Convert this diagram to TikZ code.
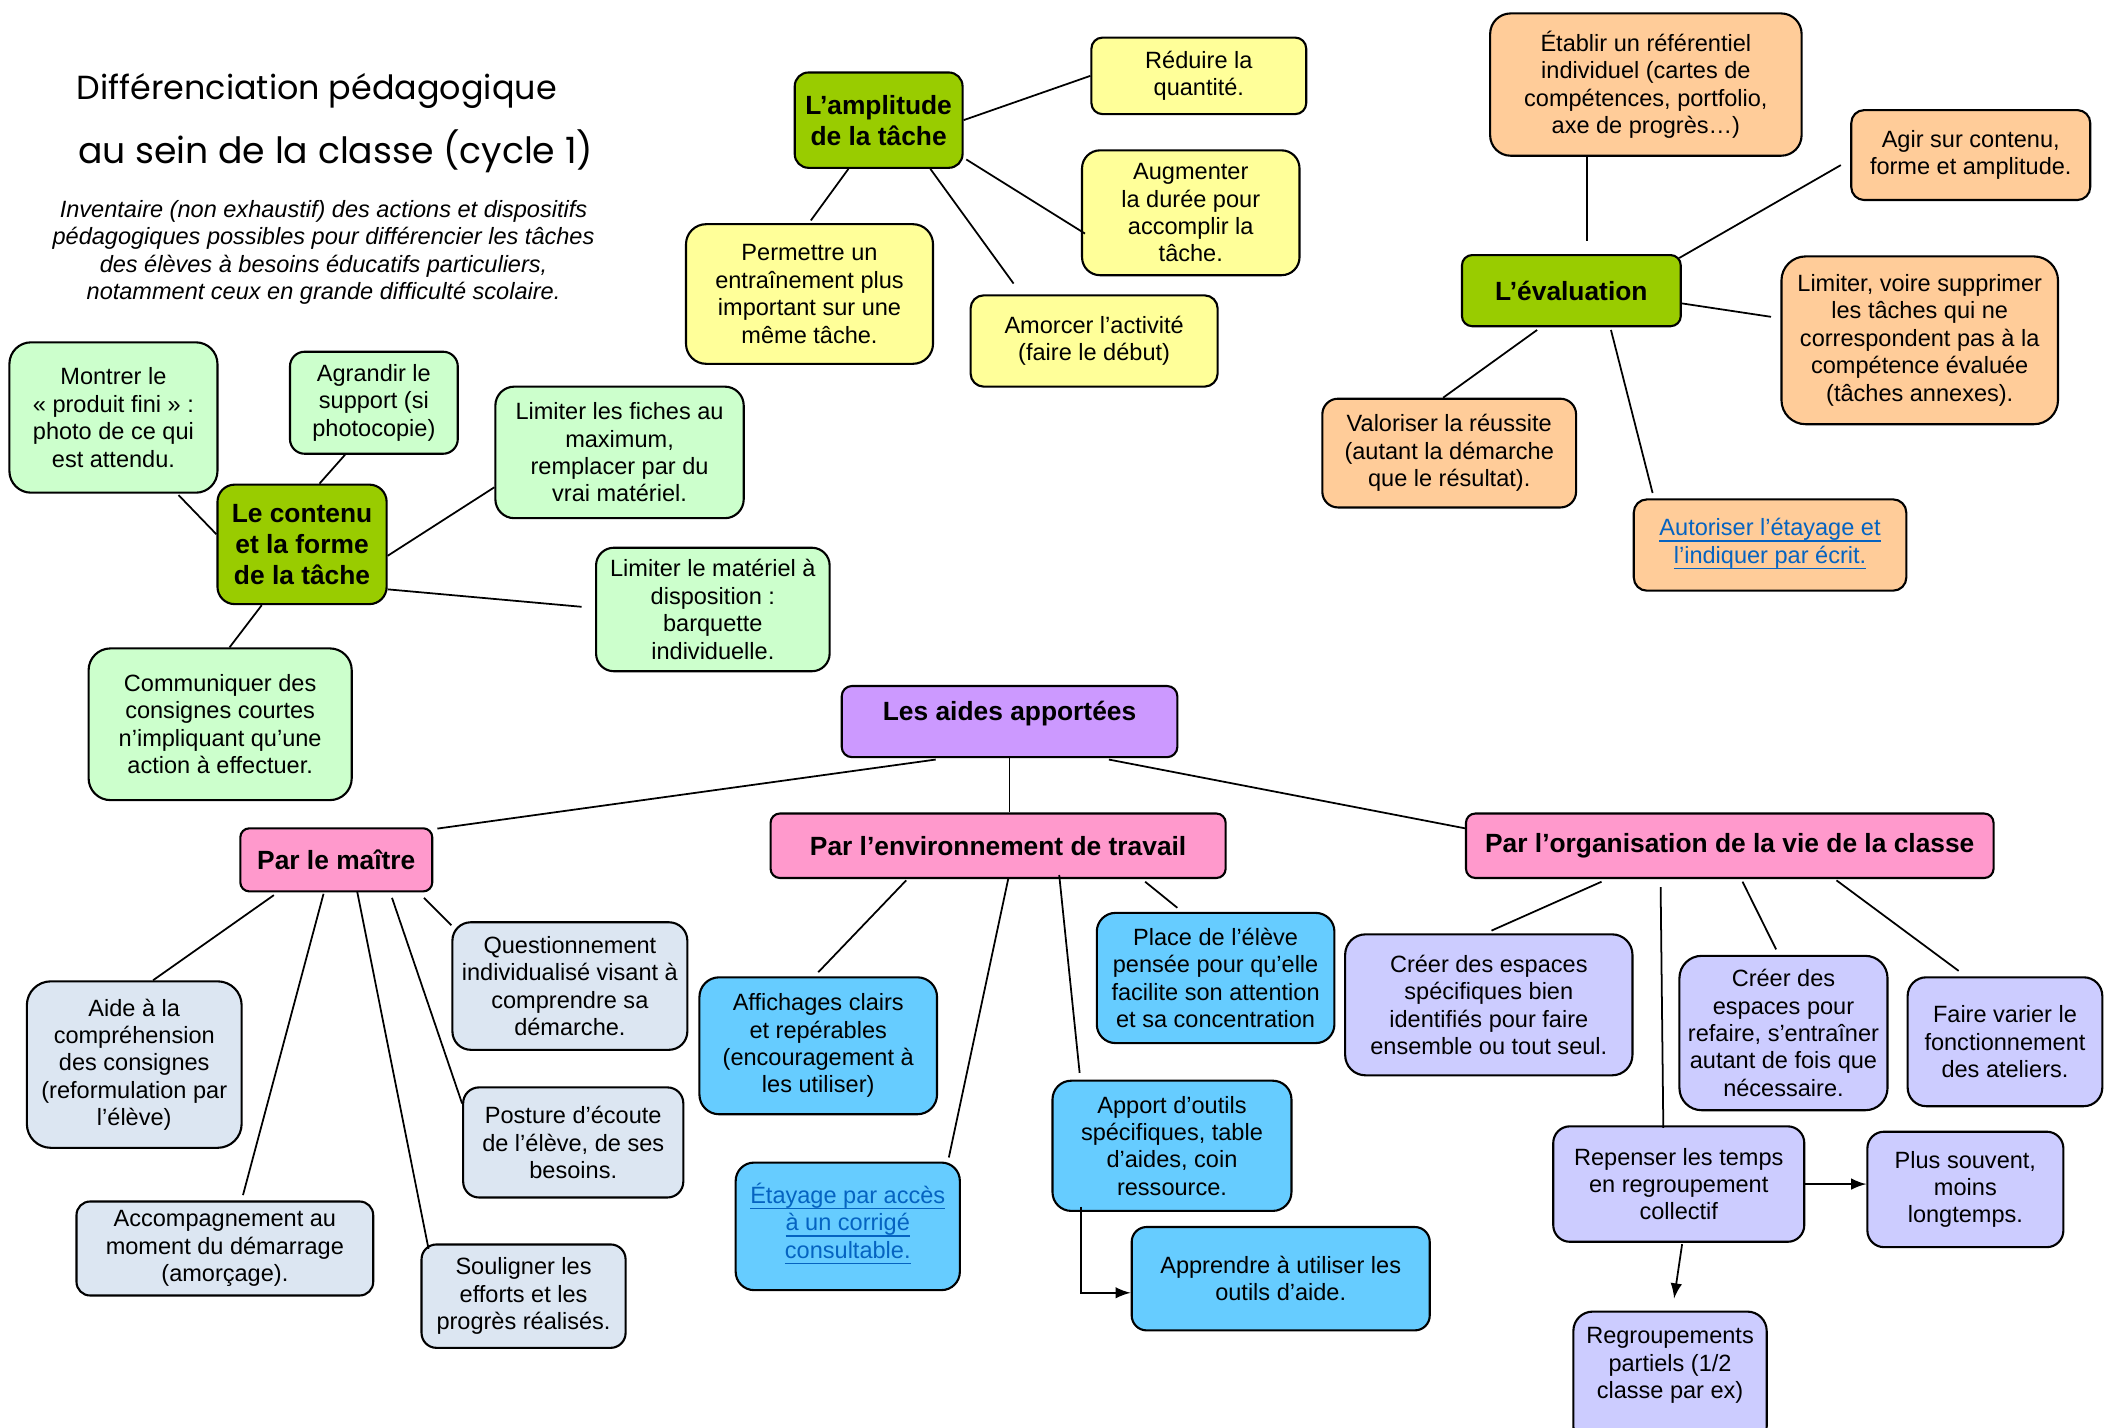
\documentclass[tikz,border=0pt]{standalone}
\usepackage{fontspec}
\setmainfont{Liberation Sans}
\newfontfamily\manuscritfont{Poppins}
\definecolor{vertfonce}{HTML}{99CC00}
\definecolor{jaune}{HTML}{FFFF99}
\definecolor{saumon}{HTML}{FFCC99}
\definecolor{vertclair}{HTML}{CCFFCC}
\definecolor{mauve}{HTML}{CC99FF}
\definecolor{rose}{HTML}{FF99CC}
\definecolor{grisbleu}{HTML}{DCE6F2}
\definecolor{bleuciel}{HTML}{66CCFF}
\definecolor{lavande}{HTML}{CCCCFF}
\definecolor{bleulien}{HTML}{0563C1}
\newcommand{\lien}[1]{\textcolor{bleulien}{\underline{\smash{#1}}}\vphantom{Ay}}
\tikzset{
  boite/.style={draw, line width=0.6pt, align=center, inner sep=1pt,
    font=\fontsize{6.7}{7.8}\selectfont},
  entete/.style={boite, font=\fontsize{7.5}{8.8}\selectfont\bfseries},
  taille/.style 2 args={minimum width=#1*0.013425cm, minimum height=#2*0.013425cm,
    rounded corners=#2*0.055pt},
  manuscrit/.style={font=\fontsize{9.5}{11}\manuscritfont},
  soustitre/.style={align=center, font=\fontsize{6.7}{7.8}\selectfont\itshape}
}
\begin{document}
\begin{tikzpicture}[x=0.013425cm,y=-0.013425cm,>=latex,line width=0.5pt]
\useasboundingbox (0,0) rectangle (1568,1063);

\node[manuscrit] (titre1) at (236,68) {Différenciation pédagogique};
\node[manuscrit, font=\fontsize{10.3}{12}\manuscritfont] (titre2) at (250,113) {au sein de la classe (cycle 1)};
\node[soustitre] (intro) at (241,188) {Inventaire (non exhaustif) des actions et dispositifs\\pédagogiques possibles pour différencier les tâches\\des élèves à besoins éducatifs particuliers,\\notamment ceux en grande difficulté scolaire.};

\node[entete, fill=vertfonce, taille={125}{71}] (amp) at (654.5,89.5) {L’amplitude\\de la tâche};
\node[boite, fill=jaune, taille={160}{57}] (reduire) at (893,56.5) {Réduire la\\quantité.};
\node[boite, fill=jaune, taille={162}{93}] (augmenter) at (887,158.5) {Augmenter\\la durée pour\\accomplir la\\tâche.};
\node[boite, fill=jaune, taille={184}{104}] (permettre) at (603,219) {Permettre un\\entraînement plus\\important sur une\\même tâche.};
\node[boite, fill=jaune, taille={184}{68}] (amorcer) at (815,254) {Amorcer l’activité\\(faire le début)};
\draw (amp.east)--(reduire.west);
\draw ([shift={(2,-7)}]amp.south east)--([shift={(3,15.5)}]augmenter.west);
\draw ([shift={(-22.5,0)}]amp.south)--([shift={(1,-2)}]permettre.north);
\draw ([shift={(38.5,0)}]amp.south)--([shift={(-60,-8)}]amorcer.north);

\node[entete, fill=vertfonce, taille={163}{53}] (eval) at (1170.5,216.5) {L’évaluation};
\node[boite, fill=saumon, taille={232}{106}] (etablir) at (1226,63) {Établir un référentiel\\individuel (cartes de\\compétences, portfolio,\\axe de progrès…)};
\node[boite, fill=saumon, taille={178}{67}] (agir) at (1468,115.5) {Agir sur contenu,\\forme et amplitude.};
\node[boite, fill=saumon, taille={206}{125}] (supprimer) at (1430,253.5) {Limiter, voire supprimer\\les tâches qui ne\\correspondent pas à la\\compétence évaluée\\(tâches annexes).};
\node[boite, fill=saumon, taille={189}{81}] (valoriser) at (1079.5,337.5) {Valoriser la réussite\\(autant la démarche\\que le résultat).};
\node[boite, fill=saumon, taille={203}{68}] (autoriser) at (1318.5,406) {\lien{Autoriser l’étayage et}\\\lien{l’indiquer par écrit.}};
\draw ([shift={(-44,0)}]etablir.south)--([shift={(11.5,-10)}]eval.north);
\draw ([shift={(-7,7.5)}]agir.west)--([shift={(-2,3)}]eval.north east);
\draw ([shift={(0,9.5)}]eval.east)--([shift={(-7,-17.5)}]supprimer.west);
\draw ([shift={(-25.5,2)}]eval.south)--([shift={(-4.5,0)}]valoriser.north);
\draw ([shift={(29.5,2)}]eval.south)--([shift={(-87.5,-4)}]autoriser.north);

\node[entete, fill=vertfonce, taille={126}{89}] (contenu) at (225,405.5) {Le contenu\\et la forme\\de la tâche};
\node[boite, fill=vertclair, taille={155}{112}] (montrer) at (84.5,311) {Montrer le\\«~produit fini~»~:\\photo de ce qui\\est attendu.};
\node[boite, fill=vertclair, taille={125}{76}] (agrandir) at (278.5,300) {Agrandir le\\support (si\\photocopie)};
\node[boite, fill=vertclair, taille={185}{98}] (fiches) at (461.5,337) {Limiter les fiches au\\maximum,\\remplacer par du\\vrai matériel.};
\node[boite, fill=vertclair, taille={174}{92}] (materiel) at (531,454) {Limiter le matériel à\\disposition :\\barquette\\individuelle.};
\node[boite, fill=vertclair, taille={196}{113}] (communiquer) at (164,539.5) {Communiquer des\\consignes courtes\\n’impliquant qu’une\\action à effectuer.};
\draw ([shift={(48.5,1)}]montrer.south)--([shift={(0,-7.5)}]contenu.west);
\draw ([shift={(-21.5,0)}]agrandir.south)--([shift={(13,0)}]contenu.north);
\draw ([shift={(0,26)}]fiches.west)--([shift={(0,8.5)}]contenu.east);
\draw ([shift={(0,33.5)}]contenu.east)--([shift={(-10,-2)}]materiel.west);
\draw ([shift={(-30,0)}]contenu.south)--([shift={(7,0)}]communiquer.north);

\node[entete, fill=mauve, taille={250}{53}, text depth=6pt] (aides) at (752,537.5) {Les aides apportées};
\node[entete, fill=rose, taille={143}{47}] (maitre) at (250.5,640.5) {Par le maître};
\node[entete, fill=rose, taille={339}{48}] (env) at (743.5,630) {Par l’environnement de travail};
\node[entete, fill=rose, taille={393}{48}] (org) at (1288.5,630) {Par l’organisation de la vie de la classe};
\draw ([shift={(-55,1)}]aides.south)--([shift={(3,1)}]maitre.north east);
\draw (aides.south)--(aides.south |- env.north);
\draw ([shift={(74,1)}]aides.south)--([shift={(0,-13)}]org.west);

\node[boite, fill=grisbleu, taille={160}{124}] (aide) at (100,793) {Aide à la\\compréhension\\des consignes\\(reformulation par\\l’élève)};
\node[boite, fill=grisbleu, taille={221}{70}] (accomp) at (167.5,930) {Accompagnement au\\moment du démarrage\\(amorçage).};
\node[boite, fill=grisbleu, taille={175}{95}] (question) at (424.5,734.5) {Questionnement\\individualisé visant à\\comprendre sa\\démarche.};
\node[boite, fill=grisbleu, taille={164}{82}] (posture) at (427,851) {Posture d’écoute\\de l’élève, de ses\\besoins.};
\node[boite, fill=grisbleu, taille={152}{77}] (souligner) at (390,965.5) {Souligner les\\efforts et les\\progrès réalisés.};
\draw ([shift={(-46.5,2)}]maitre.south)--([shift={(14,0)}]aide.north);
\draw ([shift={(-9.5,1)}]maitre.south)--([shift={(13.5,-4)}]accomp.north);
\draw ([shift={(15.5,-1)}]maitre.south)--([shift={(6,4)}]souligner.north west);
\draw ([shift={(41.5,4)}]maitre.south)--([shift={(0,-29)}]posture.west);
\draw ([shift={(-7,4)}]maitre.south east)--([shift={(0,3)}]question.north west);

\node[boite, fill=bleuciel, taille={177}{102}] (affichages) at (609.5,779) {Affichages clairs\\et repérables\\(encouragement à\\les utiliser)};
\node[boite, fill=bleuciel, taille={167}{95}] (etayage) at (631.5,913.5) {\lien{Étayage par accès}\\\lien{à un corrigé}\\\lien{consultable.}};
\node[boite, fill=bleuciel, taille={177}{97}] (place) at (905.5,728.5) {Place de l’élève\\pensée pour qu’elle\\facilite son attention\\et sa concentration};
\node[boite, fill=bleuciel, taille={178}{97}] (apport) at (873,853.5) {Apport d’outils\\spécifiques, table\\d’aides, coin\\ressource.};
\node[boite, fill=bleuciel, taille={222}{77}] (apprendre) at (954,952.5) {Apprendre à utiliser les\\outils d’aide.};
\draw ([shift={(-68.5,1)}]env.south)--([shift={(0,-3)}]affichages.north);
\draw ([shift={(7.5,0)}]env.south)--([shift={(-9,-3)}]etayage.north east);
\draw ([shift={(45.5,-3)}]env.south)--([shift={(21,-5)}]apport.north west);
\draw ([shift={(109.5,2)}]env.south)--([shift={(-28.5,-3)}]place.north);
\draw[->] ([shift={(22,-4)}]apport.south west) |- ([shift={(0,10.5)}]apprendre.west);

\node[boite, fill=lavande, taille={214}{105}] (creer1) at (1109,748.5) {Créer des espaces\\spécifiques bien\\identifiés pour faire\\ensemble ou tout seul.};
\node[boite, fill=lavande, taille={155}{115}] (creer2) at (1328.5,769.5) {Créer des\\espaces pour\\refaire, s’entraîner\\autant de fois que\\nécessaire.};
\node[boite, fill=lavande, taille={145}{96}] (varier) at (1493.5,776) {Faire varier le\\fonctionnement\\des ateliers.};
\node[boite, fill=lavande, taille={187}{86}] (repenser) at (1250.5,882) {Repenser les temps\\en regroupement\\collectif};
\node[boite, fill=lavande, taille={146}{86}] (plus) at (1464,886) {Plus souvent,\\moins\\longtemps.};
\node[boite, fill=lavande, taille={144}{100}, text depth=9pt] (regroup) at (1244,1027) {Regroupements\\partiels (1/2\\classe par ex)};
\draw ([shift={(-95.5,2)}]org.south)--([shift={(2,-2)}]creer1.north);
\draw ([shift={(-51.5,6)}]org.south)--([shift={(-11.5,2)}]repenser.north);
\draw ([shift={(9.5,2)}]org.south)--([shift={(-5.5,-4)}]creer2.north);
\draw ([shift={(79.5,1)}]org.south)--([shift={(-34.5,-4)}]varier.north);
\draw[->] (repenser.east)--(repenser.east -| plus.west);
\draw[->] ([shift={(2.5,1)}]repenser.south)--([shift={(3,-9)}]regroup.north);
\end{tikzpicture}
\end{document}
